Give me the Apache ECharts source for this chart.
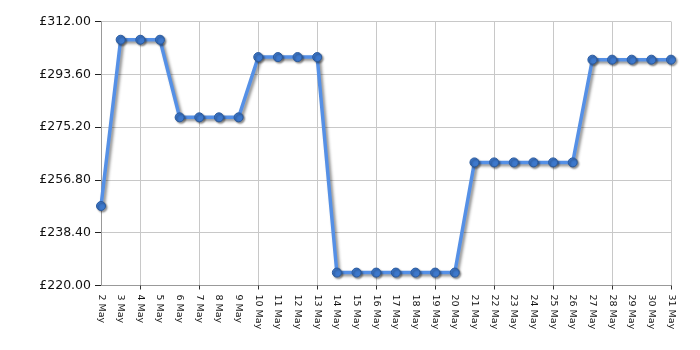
<!DOCTYPE html>
<html><head><meta charset="utf-8">
<script src="https://cdn.jsdelivr.net/npm/echarts@6/dist/echarts.min.js"></script>
<style>html,body{margin:0;padding:0;background:#fff}#c{width:700px;height:350px}</style>
</head><body><div id="c"></div>
<script>
const categories = ['2 May','3 May','4 May','5 May','6 May','7 May','8 May','9 May','10 May','11 May','12 May','13 May','14 May','15 May','16 May','17 May','18 May','19 May','20 May','21 May','22 May','23 May','24 May','25 May','26 May','27 May','28 May','29 May','30 May','31 May'];
const prices = [247.7,305.65,305.65,305.65,278.6,278.6,278.6,278.6,299.6,299.6,299.6,299.6,224.5,224.5,224.5,224.5,224.5,224.5,224.5,262.9,262.9,262.9,262.9,262.9,262.9,298.7,298.7,298.7,298.7,298.7];
const yMin = 220, yMax = 312, yStep = 18.4;

const last = categories.length - 1;
const every3 = (i) => (last - i) % 3 === 0;

const chart = echarts.init(document.getElementById('c'), null, {renderer:'canvas'});
chart.setOption({
  animation:false,
  grid:{left:101, right:29, top:21.5, bottom:64.5, containLabel:false},
  xAxis:{
    type:'category', data:categories, boundaryGap:false,
    axisLine:{lineStyle:{color:'#999', width:1}},
    axisTick:{show:true, interval:every3, length:4, lineStyle:{color:'#333'}},
    splitLine:{show:true, interval:every3, lineStyle:{color:'#c8c8c8', width:1}},
    axisLabel:{interval:0, rotate:-90, fontFamily:'DejaVu Sans', fontSize:9.5, color:'#111', margin:9}
  },
  yAxis:{
    type:'value', min:yMin, max:yMax, interval:yStep,
    axisLine:{show:true, lineStyle:{color:'#999'}},
    axisTick:{show:true, inside:false, length:6, lineStyle:{color:'#222'}},
    splitLine:{show:true, lineStyle:{color:'#c8c8c8'}},
    axisLabel:{fontFamily:'DejaVu Sans', fontSize:12.5, color:'#111', margin:10,
      formatter:(v)=>'£'+v.toFixed(2)}
  },
  series:[{
    type:'line', data:prices,
    lineStyle:{color:'#5590e6', width:3.5, shadowColor:'rgba(0,0,0,0.45)', shadowBlur:3, shadowOffsetX:2, shadowOffsetY:2},
    symbol:'circle', symbolSize:9,
    itemStyle:{color:'#3d78cc', borderColor:'#2a5a9e', borderWidth:1, shadowColor:'rgba(0,0,0,0.4)', shadowBlur:2, shadowOffsetX:1.5, shadowOffsetY:1.5}
  }]
});
</script></body></html>
